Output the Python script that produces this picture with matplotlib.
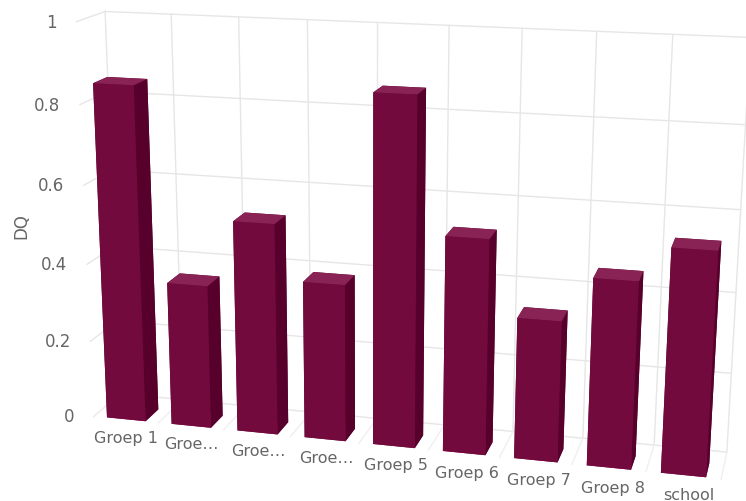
import numpy as np
import matplotlib
matplotlib.use("Agg")
import matplotlib.pyplot as plt

categories = ["Groep 1", "Groe…", "Groe…", "Groe…", "Groep 5", "Groep 6", "Groep 7", "Groep 8", "school"]
values = [0.853, 0.367, 0.535, 0.397, 0.865, 0.535, 0.35, 0.46, 0.545]
y_ticks = [0, 0.2, 0.4, 0.6, 0.8, 1]
y_tick_labels = ["0", "0.2", "0.4", "0.6", "0.8", "1"]

FRONT = "#730a3e"
SIDE = "#57002b"
TOP = "#8a2355"
GRID = "#e6e6e6"
FLOOR = "#efefef"
TEXT = "#666666"

plt.rcParams["font.family"] = ["DejaVu Sans"]

fig_w, fig_h = 746, 501
fig = plt.figure(figsize=(fig_w / 100, fig_h / 100), dpi=100, facecolor="white")
# square 3d axes, bigger than the figure so nothing gets clipped
side = 1000
left = 369.5 - 0.5135 * side
bottom = (fig_h - 250) - 0.5135 * side
ax = fig.add_axes([left / fig_w, bottom / fig_h, side / fig_w, side / fig_h],
                  projection="3d", computed_zorder=False)
ax.set_xticks([])
ax.set_yticks([])
ax.set_zticks([])
ax.set_axis_off()
ax.patch.set_alpha(0)

n = len(categories)
ax.set_xlim(-1.46, n - 0.5)
ax.set_ylim(0, 1)
ax.set_zlim(-0.072, 1)
ax.set_box_aspect((719, 72, 446), zoom=0.8244)
ax.view_init(elev=15.7, azim=-75)
ax.set_proj_type("persp", focal_length=0.3365)

# back wall and side wall grid
for t in y_ticks:
    ax.plot([-0.5, n - 0.5], [1, 1], [t, t], color=GRID, lw=1, zorder=1)
    ax.plot([-0.5, -0.5], [0, 1], [t, t], color=GRID, lw=1, zorder=1)
# vertical grid and floor lines at the category edges
for i in range(n + 1):
    ax.plot([i - 0.5, i - 0.5], [1, 1], [0, 1], color=GRID, lw=1, zorder=1)
    ax.plot([i - 0.5, i - 0.5], [0, 1], [0, 0], color=FLOOR, lw=1, zorder=1)

# bars, face order is -Z, +Z, -Y, +Y, -X, +X
bar_w = 0.6
bar_d = 0.5
xs = np.arange(n) - bar_w / 2
face_colors = [FRONT, TOP, FRONT, SIDE, SIDE, SIDE] * n
ax.bar3d(xs, np.full(n, 0.02), np.zeros(n), bar_w, bar_d, values,
         color=face_colors, shade=False, zorder=2)

for i, name in enumerate(categories):
    ax.text(i + 0.1, -0.25, -0.031, name, color=TEXT, fontsize=11.5, ha="center", va="center", zorder=3)
for t, label in zip(y_ticks, y_tick_labels):
    ax.text(-0.8, 0, t - 0.005, label, color=TEXT, fontsize=12, ha="right", va="center", zorder=3)

fig.text(21 / fig_w, 1 - 226 / fig_h, "DQ", color=TEXT, fontsize=12, rotation=90,
         ha="center", va="center")

fig.savefig("out.png", dpi=100)
